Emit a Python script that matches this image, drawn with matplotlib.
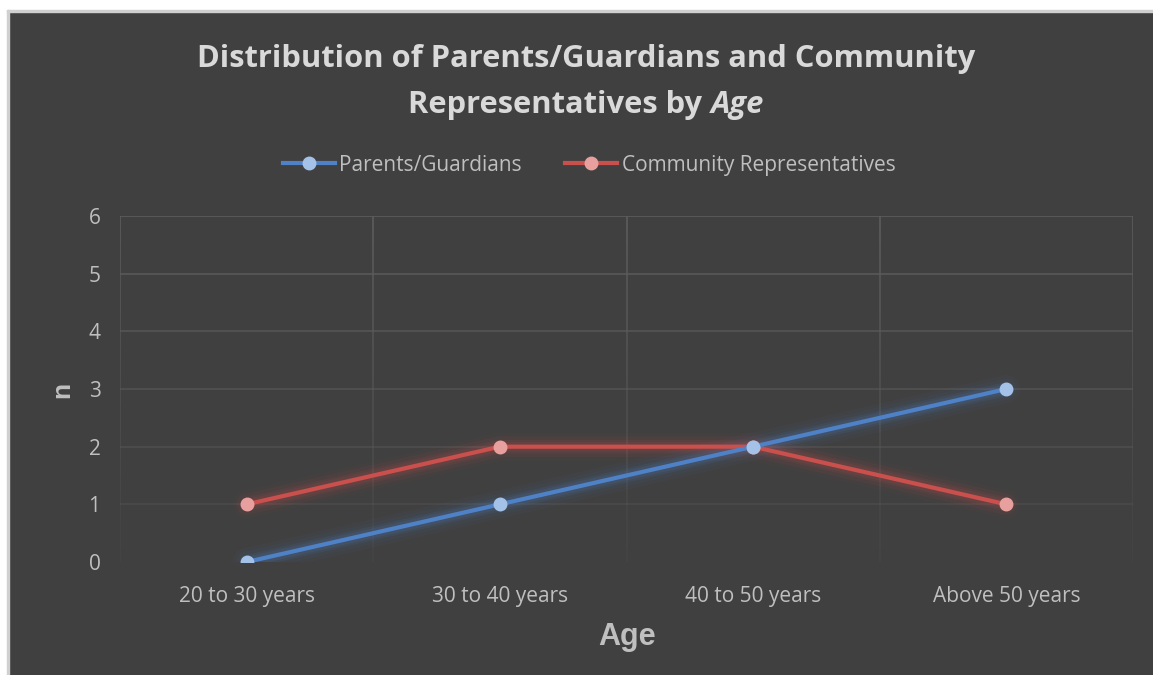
import matplotlib
matplotlib.use("Agg")
import matplotlib.pyplot as plt
from matplotlib.patches import Rectangle
import numpy as np

categories = ["20 to 30 years", "30 to 40 years", "40 to 50 years", "Above 50 years"]
parents = [0, 1, 2, 3]
community = [1, 2, 2, 1]

bg = "#404040"
txt = "#bfbfbf"
blue, blue_m = "#4f81c6", "#a4c2e8"
red, red_m = "#c9504d", "#e8a09e"

plt.rcParams["font.family"] = ["Open Sans", "DejaVu Sans"]

fig = plt.figure(figsize=(11.53, 6.75), dpi=100, facecolor=bg)
# white margin on top/left like the original screenshot
fig.patches.append(Rectangle((0, 1 - 10 / 675), 1, 10 / 675, transform=fig.transFigure, color="white", zorder=0))
fig.patches.append(Rectangle((0, 0), 7 / 1153, 1, transform=fig.transFigure, color="white", zorder=0))
fig.patches.append(Rectangle((7 / 1153, 0), 1.5 / 1153, 1 - 10 / 675, transform=fig.transFigure, color="#d0d0d0", zorder=0))
fig.patches.append(Rectangle((7 / 1153, 1 - 11.5 / 675), 1, 1.5 / 675, transform=fig.transFigure, color="#d0d0d0", zorder=0))

ax = fig.add_axes([120 / 1153, 113 / 675, 1013 / 1153, 346 / 675])
ax.set_facecolor(bg)
x = np.arange(len(categories))

# fading gridlines
for v in range(1, 7):
    ax.axhline(v, color="#5c5c5c", lw=1.2, alpha=0.25 + 0.75 * v / 6, zorder=1)
for b in np.arange(-0.5, len(categories), 1.0):
    ys = np.linspace(0, 6, 25)
    for i in range(len(ys) - 1):
        ax.plot([b, b], [ys[i], ys[i + 1]], color="#5c5c5c", lw=1.2,
                alpha=0.1 + 0.9 * ys[i + 1] / 6, solid_capstyle="butt", zorder=1)

# glow
for w, a in [(20, 0.04), (15, 0.06), (10, 0.1), (7, 0.12)]:
    ax.plot(x, parents, color=blue, lw=w, alpha=a, solid_capstyle="round", zorder=2)
    ax.plot(x, community, color=red, lw=w, alpha=a, solid_capstyle="round", zorder=2)

ax.plot(x, community, color=red, lw=3, marker="o", ms=9, mfc=red_m, mec=red_m,
        label="Community Representatives", zorder=3)
ax.plot(x, parents, color=blue, lw=3, marker="o", ms=9, mfc=blue_m, mec=blue_m,
        label="Parents/Guardians", zorder=4)

ax.set_xlim(-0.5, len(categories) - 0.5)
ax.set_ylim(0, 6)
ax.set_xticks(x)
ax.set_xticklabels(categories)
ax.set_yticks(range(7))
ax.tick_params(colors=txt, labelsize=15, length=0)
ax.tick_params(axis="x", pad=17)
ax.tick_params(axis="y", pad=14)
for s in ax.spines.values():
    s.set_visible(False)

fig.text(62 / 1153, 1 - 390 / 675, "n", rotation=90, ha="center", va="center",
         family="Liberation Sans", fontweight="bold", fontsize=19, color=txt)
fig.text(627 / 1153, 1 - 637 / 675, "Age", ha="center", va="center",
         family="Liberation Sans", fontweight="bold", fontsize=22, color=txt)

h, l = ax.get_legend_handles_labels()
leg = ax.legend(h[::-1], l[::-1], ncol=2, frameon=False, loc="center",
                bbox_to_anchor=(469 / 1013, 1 + 51 / 346), fontsize=15,
                handlelength=2.5, columnspacing=2.1, handletextpad=0.2)
for t in leg.get_texts():
    t.set_color(txt)

tc = "#d9d9d9"
fig.text(586 / 1153, 1 - 59 / 675, "Distribution of Parents/Guardians and Community",
         ha="center", va="center", fontsize=22.2, fontweight="bold", color=tc)
# second title line with italic "Age"
r = fig.canvas.get_renderer()
t1 = fig.text(0, 1 - 105 / 675, "Representatives by ", ha="left", va="center",
              fontsize=22.2, fontweight="bold", color=tc)
t2 = fig.text(0, 1 - 105 / 675, "Age", ha="left", va="center",
              fontsize=22.2, fontweight="bold", style="italic", color=tc)
w1 = t1.get_window_extent(r).width / fig.bbox.width
w2 = t2.get_window_extent(r).width / fig.bbox.width
x0 = 586 / 1153 - (w1 + w2) / 2
t1.set_x(x0)
t2.set_x(x0 + w1)

fig.savefig("out.png", dpi=100, facecolor=bg)
